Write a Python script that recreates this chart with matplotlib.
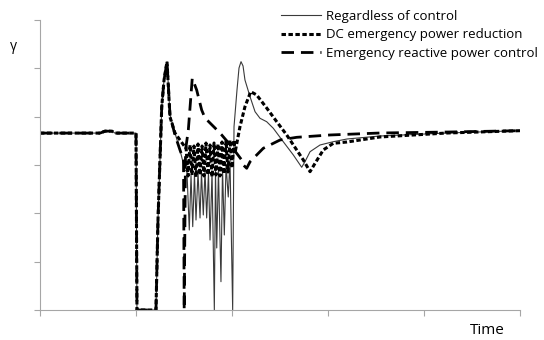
import matplotlib
matplotlib.use("Agg")
import matplotlib.pyplot as plt

plt.rcParams["font.family"] = ["Open Sans", "DejaVu Sans"]
plt.rcParams["lines.scale_dashes"] = False

# tramo comun (prefalla, hueco y primer pico)
t_comun = [0.0, 0.625, 0.677, 0.75, 0.78, 1.0, 1.01, 1.208, 1.229, 1.268, 1.292, 1.323]
g_comun = [3.66, 3.66, 3.70, 3.70, 3.66, 3.66, 0.0, 0.0, 1.862, 4.20, 4.759, 5.138]

# sin control
t_sin = [1.354, 1.406, 1.458, 1.510, 1.531, 1.555, 1.573, 1.591, 1.609, 1.625, 1.646,
         1.667, 1.682, 1.701, 1.719, 1.736, 1.755, 1.771, 1.792, 1.816, 1.828, 1.841,
         1.859, 1.885, 1.901, 1.920, 1.938, 1.961, 1.979, 2.007, 2.021, 2.052, 2.073,
         2.094, 2.115, 2.135, 2.188, 2.240, 2.292, 2.361, 2.430, 2.534, 2.639, 2.726,
         2.760, 2.813, 2.917, 3.055, 3.198, 3.542, 4.240, 5.0]
g_sin = [4.035, 3.662, 3.311, 2.897, 2.855, 1.655, 2.793, 1.724, 2.814, 1.862, 2.855,
         1.904, 2.855, 1.966, 2.897, 1.904, 2.855, 1.448, 2.855, 0.0, 2.897, 1.283,
         2.897, 0.586, 2.938, 1.552, 3.000, 2.338, 3.104, 0.0, 3.793, 4.552, 5.007,
         5.138, 5.049, 4.759, 4.413, 4.103, 3.966, 3.896, 3.760, 3.482, 3.207, 2.953,
         3.068, 3.275, 3.414, 3.482, 3.538, 3.600, 3.662, 3.710]

# reduccion de potencia DC
t_dc = [1.354, 1.406, 1.458, 1.510, 1.521, 1.542, 1.563, 1.583, 1.604, 1.625, 1.646,
        1.667, 1.688, 1.708, 1.729, 1.750, 1.771, 1.792, 1.813, 1.833, 1.854, 1.875,
        1.896, 1.917, 1.938, 1.958, 1.979, 2.0, 2.021, 2.031, 2.083, 2.135, 2.195,
        2.257, 2.361, 2.466, 2.570, 2.674, 2.743, 2.813, 2.865, 2.951, 3.055, 3.198,
        3.542, 4.240, 5.0]
g_dc = [3.993, 3.662, 3.517, 3.373, 3.373, 2.773, 3.414, 2.793, 3.393, 2.752, 3.435,
        2.793, 3.393, 2.773, 3.455, 2.793, 3.414, 2.752, 3.455, 2.793, 3.435, 2.773,
        3.476, 2.814, 3.497, 2.855, 3.517, 2.938, 3.517, 3.248, 3.793, 4.206, 4.517,
        4.449, 4.180, 3.896, 3.621, 3.311, 3.104, 2.862, 3.035, 3.311, 3.449, 3.476,
        3.580, 3.662, 3.710]

# control de reactiva
t_q = [1.354, 1.406, 1.458, 1.495, 1.502, 1.516, 1.545, 1.586, 1.632, 1.684, 1.719,
       1.771, 1.823, 1.893, 1.997, 2.101, 2.118, 2.153, 2.188, 2.326, 2.5, 2.674,
       3.021, 3.542, 4.271, 5.0]
g_q = [4.035, 3.621, 3.311, 3.104, 0.0, 3.311, 3.724, 4.794, 4.552, 4.138, 3.973,
       3.869, 3.766, 3.621, 3.379, 3.104, 3.0, 2.932, 3.068, 3.346, 3.517, 3.573,
       3.621, 3.662, 3.683, 3.710]

fig = plt.figure(figsize=(5.44, 3.4), dpi=100)
ax = fig.add_axes([40 / 544, 30 / 340, 480 / 544, 290 / 340])

ax.plot(t_comun + t_sin, g_comun + g_sin, color="#3a3a3a", lw=0.8,
        label="Regardless of control")
ax.plot(t_comun + t_dc, g_comun + g_dc, color="black", lw=2.2, dashes=(3.2, 1.8),
        label="DC emergency power reduction")
ax.plot(t_comun + t_q, g_comun + g_q, color="black", lw=2.0, dashes=(9, 5),
        label="Emergency reactive power control")

ax.set_xlim(0, 5)
ax.set_ylim(0, 6)
ax.set_xticks([0, 1, 2, 3, 4, 5])
ax.set_yticks([0, 1, 2, 3, 4, 5, 6])
ax.set_xticklabels([])
ax.set_yticklabels([])
ax.tick_params(length=4, width=0.8, color="#a6a6a6")
for lado in ("top", "right"):
    ax.spines[lado].set_visible(False)
for lado in ("left", "bottom"):
    ax.spines[lado].set_color("#a6a6a6")
    ax.spines[lado].set_linewidth(0.8)

fig.text(13 / 544, 1 - 47 / 340, "γ", fontsize=10, ha="center", va="center")
fig.text(505 / 544, 1 - 331 / 340, "Time", fontsize=11, ha="right", va="center")

ax.legend(loc="upper left", bbox_to_anchor=(272 / 544, 1 - 0.5 / 340),
          bbox_transform=fig.transFigure, frameon=False, fontsize=9.5,
          handlelength=3.0, handletextpad=0.4, labelspacing=0.42,
          borderpad=0.2)

fig.savefig("out.png", dpi=100)
